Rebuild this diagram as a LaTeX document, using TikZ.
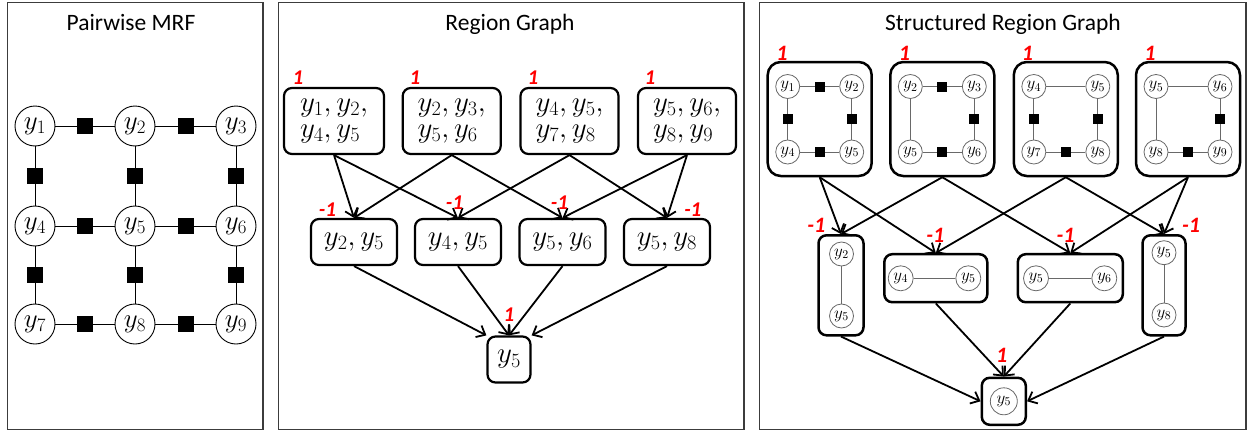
\RequirePackage{fix-cm}
\documentclass[tikz,border=0pt]{standalone}
\usepackage{fontspec}
\newfontfamily\titlefont{Carlito}
\usetikzlibrary{arrows.meta}
\definecolor{panelgray}{RGB}{60,60,60}
\definecolor{thingray}{RGB}{105,105,105}
\tikzset{
  panel/.style={draw=panelgray, line width=1.5pt},
  ptitle/.style={font=\titlefont\fontsize{23.5}{23.5}\selectfont, anchor=base, inner sep=0pt},
  var/.style={circle, draw, line width=0.9pt, minimum size=40pt, inner sep=0pt, fill=white,
    font=\fontsize{27}{27}\selectfont},
  fac/.style={rectangle, fill=black, minimum size=16pt, inner sep=0pt},
  link/.style={line width=1pt},
  region/.style={rectangle, rounded corners=8pt, draw, line width=2.2pt, inner sep=0pt,
    align=left, font=\fontsize{29}{26}\selectfont},
  weight/.style={text=red, font=\titlefont\bfseries\itshape\fontsize{21}{21}\selectfont, inner sep=0pt},
  bigweight/.style={weight, font=\titlefont\bfseries\itshape\fontsize{22}{22}\selectfont},
  flow/.style={line width=1.8pt, -{Straight Barb[length=7.5pt,width=13pt,line width=1.8pt]}},
  svar/.style={circle, draw=thingray, line width=0.8pt, minimum size=24pt, inner sep=0pt, fill=white,
    font=\fontsize{17}{17}\selectfont},
  sfac/.style={rectangle, fill=black, minimum size=10pt, inner sep=0pt},
  sedge/.style={draw=thingray, line width=0.9pt},
  sregion/.style={rectangle, draw, line width=2.5pt, inner sep=0pt},
}
\begin{document}
\begin{tikzpicture}[x=1pt, y=-1pt]
\useasboundingbox (0,0) rectangle (1248,431);

% ---------------- panels and titles ----------------
\draw[panel] (7.5,2.5) rectangle (263,429.5);
\draw[panel] (278.5,2.5) rectangle (744,429.5);
\draw[panel] (759.5,2.5) rectangle (1246,429.5);
\node[ptitle] (t1) at (131,30) {Pairwise MRF};
\node[ptitle] (t2) at (510,30) {Region Graph};
\node[ptitle] (t3) at (1003,30) {Structured Region Graph};

% ---------------- pairwise MRF ----------------
\node[var] (m1) at (35,126) {$y_1$};
\node[var] (m2) at (135,126) {$y_2$};
\node[var] (m3) at (236,126) {$y_3$};
\node[var] (m4) at (35,226) {$y_4$};
\node[var] (m5) at (135,226) {$y_5$};
\node[var] (m6) at (236,226) {$y_6$};
\node[var] (m7) at (35,324) {$y_7$};
\node[var] (m8) at (135,324) {$y_8$};
\node[var] (m9) at (236,324) {$y_9$};
\foreach \a/\b in {m1/m2,m2/m3,m4/m5,m5/m6,m7/m8,m8/m9,m1/m4,m2/m5,m3/m6,m4/m7,m5/m8,m6/m9}
  \draw[link] (\a) -- node[fac] {} (\b);

% ---------------- region graph ----------------
\node[region, minimum width=100pt, minimum height=66pt] (rA1) at (334,121) {$y_1,y_2,$\\$y_4,y_5$};
\node[region, minimum width=98pt, minimum height=66pt] (rA2) at (451.7,121) {$y_2,y_3,$\\$y_5,y_6$};
\node[region, minimum width=98pt, minimum height=66pt] (rA3) at (569.5,121) {$y_4,y_5,$\\$y_7,y_8$};
\node[region, minimum width=98pt, minimum height=66pt] (rA4) at (687,121) {$y_5,y_6,$\\$y_8,y_9$};
\node[region, minimum width=86pt, minimum height=46pt] (rB1) at (354,242) {$y_2,y_5$};
\node[region, minimum width=86pt, minimum height=46pt] (rB2) at (458,242) {$y_4,y_5$};
\node[region, minimum width=86pt, minimum height=46pt] (rB3) at (562.5,242) {$y_5,y_6$};
\node[region, minimum width=86pt, minimum height=46pt] (rB4) at (667,242) {$y_5,y_8$};
\node[region, minimum width=43pt, minimum height=46pt] (rC) at (509,359.5) {$y_5$};

\draw[flow] (rA1.south) -- (rB1.north);
\draw[flow] (rA1.south) -- (rB2.north);
\draw[flow] (rA2.south) -- (rB1.north);
\draw[flow] (rA2.south) -- (rB3.north);
\draw[flow] (rA3.south) -- (rB2.north);
\draw[flow] (rA3.south) -- (rB4.north);
\draw[flow] (rA4.south) -- (rB3.north);
\draw[flow] (rA4.south) -- (rB4.north);
\draw[flow] (rB1.south) -- (rC.north west);
\draw[flow] (rB2.south) -- (rC.north);
\draw[flow] (rB3.south) -- (rC.north);
\draw[flow] (rB4.south) -- (rC.north east);

\node[weight] (wA1) at (298,78) {1};
\node[weight] (wA2) at (415,78) {1};
\node[weight] (wA3) at (533,78) {1};
\node[weight] (wA4) at (650,78) {1};
\node[weight] (wB1) at (327.5,210) {-1};
\node[weight] (wB2) at (454.5,203) {-1};
\node[weight] (wB3) at (559.5,203) {-1};
\node[weight] (wB4) at (692.8,210) {-1};
\node[weight] (wC) at (509,315) {1};

% ---------------- structured region graph ----------------
% top regions: 2x2 blocks of the grid
\node[sregion, rounded corners=13pt, minimum width=104pt, minimum height=114pt] (sA1) at (819.7,119) {};
\node[sregion, rounded corners=13pt, minimum width=104pt, minimum height=114pt] (sA2) at (942.3,119) {};
\node[sregion, rounded corners=13pt, minimum width=104pt, minimum height=114pt] (sA3) at (1065.8,119) {};
\node[sregion, rounded corners=13pt, minimum width=104pt, minimum height=114pt] (sA4) at (1188,119) {};

\begin{scope}[shift={(819.7,119)}]
  \node[svar] (p1a) at (-32,-32.5) {$y_1$};
  \node[svar] (p1b) at (32,-32.5) {$y_2$};
  \node[svar] (p1c) at (-32,33) {$y_4$};
  \node[svar] (p1d) at (32,33) {$y_5$};
  \draw[sedge] (p1a) -- node[sfac] {} (p1b);
  \draw[sedge] (p1c) -- node[sfac] {} (p1d);
  \draw[sedge] (p1a) -- node[sfac] {} (p1c);
  \draw[sedge] (p1b) -- node[sfac] {} (p1d);
\end{scope}
\begin{scope}[shift={(942.3,119)}]
  \node[svar] (p2a) at (-32,-32.5) {$y_2$};
  \node[svar] (p2b) at (32,-32.5) {$y_3$};
  \node[svar] (p2c) at (-32,33) {$y_5$};
  \node[svar] (p2d) at (32,33) {$y_6$};
  \draw[sedge] (p2a) -- node[sfac] {} (p2b);
  \draw[sedge] (p2c) -- node[sfac] {} (p2d);
  \draw[sedge] (p2a) -- (p2c);
  \draw[sedge] (p2b) -- node[sfac] {} (p2d);
\end{scope}
\begin{scope}[shift={(1065.8,119)}]
  \node[svar] (p3a) at (-32,-32.5) {$y_4$};
  \node[svar] (p3b) at (32,-32.5) {$y_5$};
  \node[svar] (p3c) at (-32,33) {$y_7$};
  \node[svar] (p3d) at (32,33) {$y_8$};
  \draw[sedge] (p3a) -- (p3b);
  \draw[sedge] (p3c) -- node[sfac] {} (p3d);
  \draw[sedge] (p3a) -- node[sfac] {} (p3c);
  \draw[sedge] (p3b) -- node[sfac] {} (p3d);
\end{scope}
\begin{scope}[shift={(1188,119)}]
  \node[svar] (p4a) at (-32,-32.5) {$y_5$};
  \node[svar] (p4b) at (32,-32.5) {$y_6$};
  \node[svar] (p4c) at (-32,33) {$y_8$};
  \node[svar] (p4d) at (32,33) {$y_9$};
  \draw[sedge] (p4a) -- (p4b);
  \draw[sedge] (p4c) -- node[sfac] {} (p4d);
  \draw[sedge] (p4a) -- (p4c);
  \draw[sedge] (p4b) -- node[sfac] {} (p4d);
\end{scope}

% middle regions: single edges
\node[sregion, rounded corners=8pt, minimum width=45pt, minimum height=100pt] (sB1) at (841,285.3) {};
\node[sregion, rounded corners=8pt, minimum width=103pt, minimum height=48pt] (sB2) at (935.8,278.2) {};
\node[sregion, rounded corners=8pt, minimum width=105pt, minimum height=48pt] (sB3) at (1070.3,278.2) {};
\node[sregion, rounded corners=8pt, minimum width=43pt, minimum height=100pt] (sB4) at (1164,285.3) {};

\node[svar] (q1a) at (841.5,254) {$y_2$};
\node[svar] (q1b) at (841.5,316) {$y_5$};
\draw[sedge] (q1a) -- (q1b);
\node[svar, minimum size=25pt] (q2a) at (900.7,278.3) {$y_4$};
\node[svar, minimum size=25pt] (q2b) at (968.3,278.3) {$y_5$};
\draw[sedge] (q2a) -- (q2b);
\node[svar, minimum size=25pt] (q3a) at (1036,278.3) {$y_5$};
\node[svar, minimum size=25pt] (q3b) at (1104.3,278.3) {$y_6$};
\draw[sedge] (q3a) -- (q3b);
\node[svar] (q4a) at (1164,252.7) {$y_5$};
\node[svar] (q4b) at (1164,315) {$y_8$};
\draw[sedge] (q4a) -- (q4b);

% bottom region
\node[sregion, rounded corners=8pt, minimum width=44pt, minimum height=47pt] (sC) at (1003.8,401.3) {};
\node[svar, minimum size=27pt] (qC) at (1003.8,401.3) {$y_5$};

\draw[flow] (sA1.south) -- (sB1.north);
\draw[flow] (sA1.south) -- (sB2.north);
\draw[flow] (sA2.south) -- (sB1.north);
\draw[flow] (sA2.south) -- (sB3.north);
\draw[flow] (sA3.south) -- (sB2.north);
\draw[flow] (sA3.south) -- (sB4.north);
\draw[flow] (sA4.south) -- (sB3.north);
\draw[flow] (sA4.south) -- (sB4.north);
\draw[flow] (sB1.south) -- (sC.west);
\draw[flow] (sB2.south) -- (sC.north);
\draw[flow] (sB3.south) -- (sC.north);
\draw[flow] (sB4.south) -- (sC.east);

\node[bigweight] (vA1) at (782,53) {1};
\node[bigweight] (vA2) at (904.5,53) {1};
\node[bigweight] (vA3) at (1027.5,53) {1};
\node[bigweight] (vA4) at (1150,53) {1};
\node[bigweight] (vB1) at (816.3,225) {-1};
\node[bigweight] (vB2) at (935.3,235.5) {-1};
\node[bigweight] (vB3) at (1065.5,235.5) {-1};
\node[bigweight] (vB4) at (1191,225) {-1};
\node[bigweight] (vC) at (1001.7,355) {1};
\end{tikzpicture}
\end{document}
